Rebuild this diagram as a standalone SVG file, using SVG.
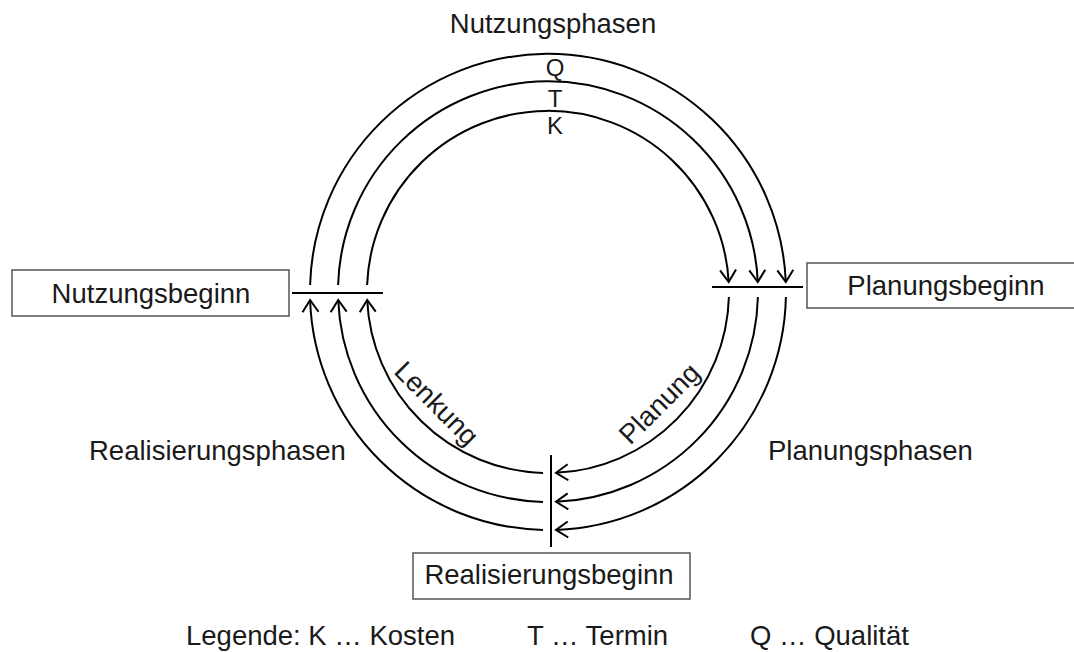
<svg xmlns="http://www.w3.org/2000/svg" width="1074" height="652" viewBox="0 0 1074 652">
  <style>
    .t { font-family: "Liberation Sans", Arial, sans-serif; font-size: 27.5px; fill: #1a1a1a; }
    .s { font-family: "Liberation Sans", Arial, sans-serif; font-size: 24px; fill: #1a1a1a; }
    .box { fill: #ffffff; stroke: #555555; stroke-width: 1.5; }
    .arc { fill: none; stroke: #000000; stroke-width: 2; }
    .bar { fill: none; stroke: #000000; stroke-width: 2; }
  </style>
  <defs>
    <marker id="arr" viewBox="-14 -10 16 20" refX="0" refY="0" markerWidth="16" markerHeight="20" orient="auto" markerUnits="userSpaceOnUse">
      <path d="M -12 -8 L 0 0 L -12 8" fill="none" stroke="#000000" stroke-width="2"/>
    </marker>
  </defs>
  <rect width="1074" height="652" fill="#ffffff"/>

  <g id="connectors">
    <!-- Nutzungsphasen: top arcs, left to right -->
    <path class="arc" d="M 310.1 285 A 238 238 0 0 1 785.8 282" marker-end="url(#arr)"/>
    <path class="arc" d="M 338.1 285 A 210 210 0 0 1 757.8 282" marker-end="url(#arr)"/>
    <path class="arc" d="M 367.1 285 A 181 181 0 0 1 728.7 282" marker-end="url(#arr)"/>
    <!-- Planungsphasen: right to bottom -->
    <path class="arc" d="M 785.9 297 A 238 238 0 0 1 556 529.9" marker-end="url(#arr)"/>
    <path class="arc" d="M 757.9 297 A 210 210 0 0 1 556 501.8" marker-end="url(#arr)"/>
    <path class="arc" d="M 728.9 297 A 181 181 0 0 1 556 472.8" marker-end="url(#arr)"/>
    <!-- Realisierungsphasen: bottom to left -->
    <path class="arc" d="M 543 529.9 A 238 238 0 0 1 310.1 300" marker-end="url(#arr)"/>
    <path class="arc" d="M 543 501.9 A 210 210 0 0 1 338.2 300" marker-end="url(#arr)"/>
    <path class="arc" d="M 543 472.9 A 181 181 0 0 1 367.2 300" marker-end="url(#arr)"/>
    <!-- phase boundary bars -->
    <path class="bar" d="M 292 293 H 383"/>
    <path class="bar" d="M 712 287 H 803"/>
    <path class="bar" d="M 551 455 V 547"/>
  </g>

  <g id="node-nutzungsbeginn">
    <rect class="box" x="12" y="270" width="277" height="46"/>
    <text class="t" x="151" y="303" text-anchor="middle">Nutzungsbeginn</text>
  </g>
  <g id="node-planungsbeginn">
    <rect class="box" x="807" y="263" width="277" height="45"/>
    <text class="t" x="946" y="295" text-anchor="middle">Planungsbeginn</text>
  </g>
  <g id="node-realisierungsbeginn">
    <rect class="box" x="413" y="553" width="277" height="46"/>
    <text class="t" x="549" y="584" text-anchor="middle">Realisierungsbeginn</text>
  </g>

  <g id="labels">
    <text class="t" x="553" y="33" text-anchor="middle">Nutzungsphasen</text>
    <text class="s" x="555" y="76" text-anchor="middle">Q</text>
    <text class="s" x="555" y="107" text-anchor="middle">T</text>
    <text class="s" x="555" y="134" text-anchor="middle">K</text>
    <text class="t" x="89" y="460">Realisierungsphasen</text>
    <text class="t" x="768" y="460">Planungsphasen</text>
    <text class="t" text-anchor="middle" transform="translate(430 410) rotate(45)">Lenkung</text>
    <text class="t" text-anchor="middle" transform="translate(666 410) rotate(-45)">Planung</text>
  </g>

  <g id="legend">
    <text class="t" x="186" y="645">Legende: K … Kosten</text>
    <text class="t" x="527" y="645">T … Termin</text>
    <text class="t" x="750" y="645">Q … Qualität</text>
  </g>
</svg>
